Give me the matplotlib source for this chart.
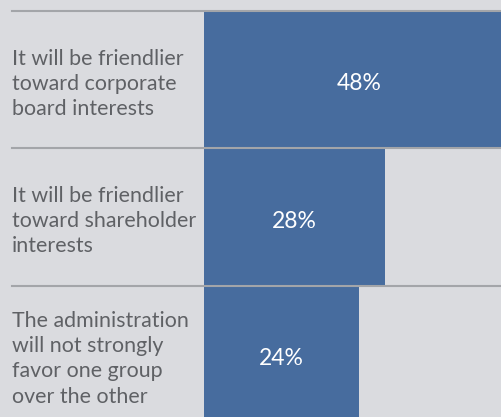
import matplotlib.pyplot as plt

labels = [
    "It will be friendlier\ntoward corporate\nboard interests",
    "It will be friendlier\ntoward shareholder\ninterests",
    "The administration\nwill not strongly\nfavor one group\nover the other",
]
values = [48, 28, 24]

bg = "#dadbdf"
bar_color = "#476c9e"
text_color = "#5f6165"
line_color = "#a3a5a9"

plt.rcParams["font.family"] = ["Lato", "DejaVu Sans"]

fig = plt.figure(figsize=(5.01, 4.17), dpi=100, facecolor=bg)
ax = fig.add_axes([0, 0, 1, 1], facecolor=bg)

# x: 0% sits at px 204, ~6.45 px per percent; y: rows of ~137.5 px
ax.set_xlim(-31.6, 46.0)
ax.set_ylim(2.453, -0.58)

rows = list(range(len(values)))
ax.barh(rows, values, height=1.0, color=bar_color, left=0)

for r in rows:
    ax.plot([-29.8, 46.0], [r - 0.5, r - 0.5], color=line_color, lw=1.5, zorder=3)

for r, lab, v in zip(rows, labels, values):
    ax.text(-29.8, r + 0.03, lab, ha="left", va="center", fontsize=15.4,
            color=text_color, linespacing=1.32)
    ax.text(v / 2, r + 0.03, f"{v}%", ha="center", va="center", fontsize=16.5,
            color="white")

ax.axis("off")
fig.savefig("out.png", dpi=100, facecolor=bg)
